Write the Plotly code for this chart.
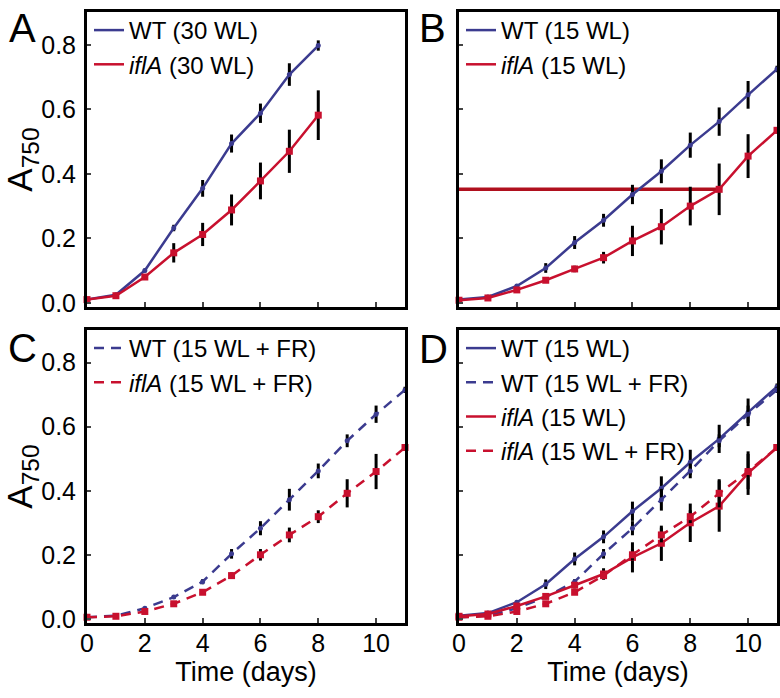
import plotly.graph_objects as go

# growth curves, A750 vs time (days)
days_30 = [0, 1, 2, 3, 4, 5, 6, 7, 8]
wt_30 = [0.010, 0.025, 0.100, 0.232, 0.355, 0.494, 0.588, 0.708, 0.798]
wt_30_err = [0.003, 0.004, 0.006, 0.010, 0.026, 0.028, 0.030, 0.035, 0.016]
ifla_30 = [0.010, 0.022, 0.080, 0.155, 0.212, 0.288, 0.378, 0.470, 0.582]
ifla_30_err = [0.003, 0.004, 0.008, 0.030, 0.036, 0.048, 0.057, 0.067, 0.077]

days_15 = [0, 1, 2, 3, 4, 5, 6, 7, 8, 9, 10, 11]
wt_15 = [0.010, 0.018, 0.052, 0.108, 0.187, 0.256, 0.336, 0.408, 0.489, 0.562, 0.645, 0.725]
wt_15_err = [0.002, 0.003, 0.005, 0.015, 0.020, 0.020, 0.030, 0.037, 0.039, 0.044, 0.043, 0.010]
ifla_15 = [0.008, 0.015, 0.040, 0.070, 0.105, 0.140, 0.192, 0.236, 0.300, 0.352, 0.455, 0.535]
ifla_15_err = [0.002, 0.003, 0.004, 0.006, 0.010, 0.018, 0.047, 0.055, 0.060, 0.080, 0.068, 0.010]

wt_fr = [0.005, 0.010, 0.033, 0.068, 0.116, 0.203, 0.283, 0.372, 0.462, 0.556, 0.639, 0.715]
wt_fr_err = [0.002, 0.003, 0.004, 0.006, 0.008, 0.015, 0.022, 0.034, 0.023, 0.020, 0.027, 0.010]
ifla_fr = [0.005, 0.008, 0.023, 0.047, 0.083, 0.135, 0.200, 0.262, 0.319, 0.392, 0.460, 0.535]
ifla_fr_err = [0.002, 0.003, 0.004, 0.005, 0.008, 0.010, 0.018, 0.023, 0.020, 0.044, 0.055, 0.010]

y_ticks = [0.0, 0.2, 0.4, 0.6, 0.8]
x_ticks = [0, 2, 4, 6, 8, 10]

BLUE = "#3b3b8f"
RED = "#c8102e"
FONT = "Liberation Sans, Arial"

fig = go.Figure()


def add_series(n, x, y, err, color, dash, symbol, name):
    ax = "" if n == 1 else str(n)
    leg = "legend" if n == 1 else "legend" + str(n)
    msize = 7 if symbol == "square" else 5
    fig.add_trace(go.Scatter(
        x=x, y=y, mode="lines+markers",
        line=dict(color=color, width=2.5, dash=dash),
        marker=dict(color=color, size=msize, symbol=symbol),
        error_y=dict(type="data", array=err, color="black", thickness=3, width=0),
        xaxis="x" + ax, yaxis="y" + ax, showlegend=False, cliponaxis=False))
    # legend entry: line only
    fig.add_trace(go.Scatter(
        x=[None], y=[None], mode="lines", name=name,
        line=dict(color=color, width=2.5, dash=dash),
        xaxis="x" + ax, yaxis="y" + ax, legend=leg))


wt = "WT"
mut = "<i>iflA</i>"
dash = "10px,7px"

add_series(1, days_30, wt_30, wt_30_err, BLUE, "solid", "circle", wt + " (30 WL)")
add_series(1, days_30, ifla_30, ifla_30_err, RED, "solid", "square", mut + " (30 WL)")

# B: horizontal reference line at iflA day-9 level
fig.add_trace(go.Scatter(x=[days_15[0], days_15[9]], y=[ifla_15[9], ifla_15[9]],
                         mode="lines", line=dict(color="#b0101e", width=3.5),
                         xaxis="x2", yaxis="y2", showlegend=False))
add_series(2, days_15, wt_15, wt_15_err, BLUE, "solid", "circle", wt + " (15 WL)")
add_series(2, days_15, ifla_15, ifla_15_err, RED, "solid", "square", mut + " (15 WL)")

add_series(3, days_15, wt_fr, wt_fr_err, BLUE, dash, "circle", wt + " (15 WL + FR)")
add_series(3, days_15, ifla_fr, ifla_fr_err, RED, dash, "square", mut + " (15 WL + FR)")

add_series(4, days_15, wt_15, wt_15_err, BLUE, "solid", "circle", wt + " (15 WL)")
add_series(4, days_15, wt_fr, wt_fr_err, BLUE, dash, "circle", wt + " (15 WL + FR)")
add_series(4, days_15, ifla_15, ifla_15_err, RED, "solid", "square", mut + " (15 WL)")
add_series(4, days_15, ifla_fr, ifla_fr_err, RED, dash, "square", mut + " (15 WL + FR)")

W, H = 780, 698


def px(x):
    return x / W


def py(y):
    return 1 - y / H


xdom = {1: [px(87), px(405)], 2: [px(459), px(777)]}
ydom = {1: [py(307), py(12)], 2: [py(623), py(330)]}
panels = {1: (1, 1), 2: (1, 2), 3: (2, 1), 4: (2, 2)}

layout = dict(width=W, height=H, margin=dict(l=0, r=0, t=0, b=0),
              plot_bgcolor="white", paper_bgcolor="white",
              font=dict(family=FONT, size=25, color="black"))

for n, (r, c) in panels.items():
    ax = "" if n == 1 else str(n)
    layout["xaxis" + ax] = dict(
        domain=xdom[c], anchor="y" + ax, range=[0, 11], tickvals=x_ticks,
        showticklabels=(r == 2), ticks="inside", ticklen=5, tickwidth=2,
        ticklabelstandoff=-4,
        showline=True, linewidth=3, linecolor="black", mirror=True,
        showgrid=False, zeroline=False, automargin=False,
        title=dict(text="Time (days)" if r == 2 else "", font=dict(size=27), standoff=6))
    layout["yaxis" + ax] = dict(
        domain=ydom[r], anchor="x" + ax, range=[-0.013, 0.902], tickvals=y_ticks,
        tickformat=".1f", showticklabels=(c == 1), ticks="inside", ticklen=4, tickwidth=2,
        ticklabelstandoff=3,
        showline=True, linewidth=3, linecolor="black", mirror=True,
        showgrid=False, zeroline=False, automargin=False,
        title=dict(text="A<sub>750</sub>" if c == 1 else "", font=dict(size=35), standoff=22))
    leg = "legend" if n == 1 else "legend" + str(n)
    layout[leg] = dict(x=xdom[c][0] + 2 / W, y=ydom[r][1] + 4 / H, xanchor="left", yanchor="top",
                       bgcolor="rgba(0,0,0,0)", font=dict(size=24), itemwidth=30,
                       tracegroupgap=0)

letters = ["A", "B", "C", "D"]
letter_pos = [(22, 28), (432, 28), (22, 348), (433, 349)]
layout["annotations"] = [
    dict(text=t, x=px(lx), y=py(ly), xref="paper", yref="paper",
         xanchor="center", yanchor="middle",
         showarrow=False, font=dict(size=40))
    for t, (lx, ly) in zip(letters, letter_pos)]

fig.update_layout(**layout)
# drop the default 8px body margin so the 780x698 figure fills the window
fig.write_html("out.html", config={"displayModeBar": False},
               post_script="document.body.style.margin = '0';")
